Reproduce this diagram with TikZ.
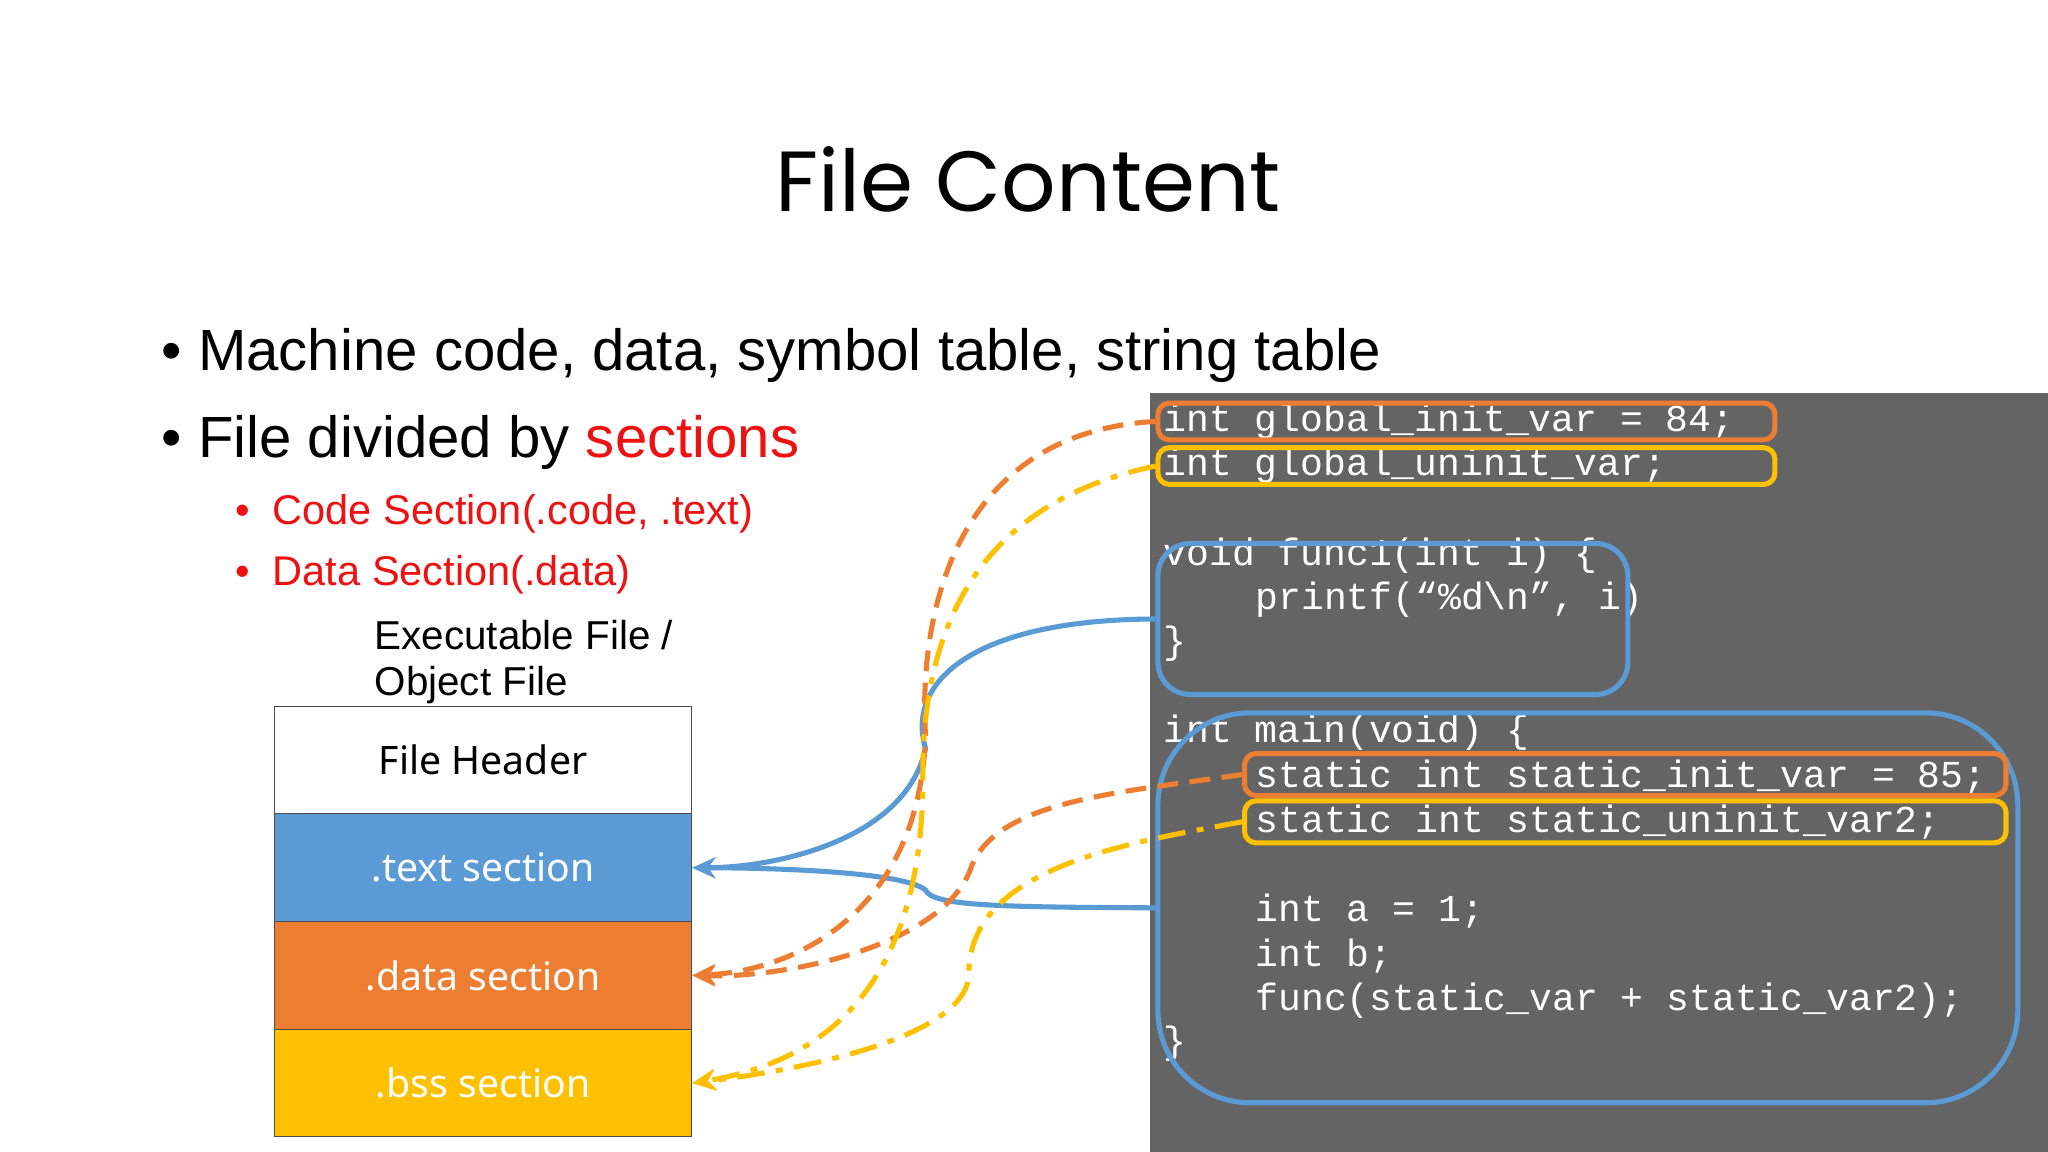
\documentclass[tikz,border=0pt]{standalone}
\usepackage{fontspec}
\setmainfont{Liberation Sans}
\newfontfamily\titlefont{Poppins}
\newfontfamily\secfont{Noto Sans}
\newfontfamily\codefont{Liberation Mono}
\usetikzlibrary{arrows.meta}
\definecolor{secblue}{HTML}{5B9BD5}
\definecolor{secorange}{HTML}{ED7D31}
\definecolor{secyellow}{HTML}{FFC000}
\definecolor{codegray}{HTML}{646464}
\definecolor{slidered}{HTML}{EE1111}
\tikzset{
  sec/.style={draw=black!70,minimum width=318*0.02cm,minimum height=82*0.02cm,inner sep=0pt,font=\secfont\fontsize{17}{20}\selectfont},
  code/.style={anchor=west,inner sep=0pt,text=white,font=\codefont\fontsize{16.5}{18}\selectfont},
  hbox/.style={draw,line width=2.2pt,rounded corners=5pt,inner sep=0pt},
  link/.style={line width=2.2pt,-{Stealth[length=10pt,width=9pt]}},
  dashlink/.style={link,draw=secorange,dash pattern=on 9pt off 5pt},
  dotlink/.style={link,draw=secyellow,dash pattern=on 12pt off 5pt on 3pt off 5pt}
}
\begin{document}
\begin{tikzpicture}[x=0.02cm,y=-0.02cm]
\useasboundingbox (0,0) rectangle (1560,877.5);
\fill[white] (0,0) rectangle (1560,877.5);
% title and bullets
\node (title) at (783,137) {\titlefont\fontsize{37}{44}\selectfont File Content};
\node[anchor=west] (b1) at (117,271) {\fontsize{25.2}{30}\selectfont\textbullet\ Machine code, data, symbol table, string table};
\node[anchor=west] (b2) at (117,337) {\fontsize{25.2}{30}\selectfont\textbullet\ File divided by \textcolor{slidered}{sections}};
\node[anchor=west,text=slidered] (s1) at (173,391) {\fontsize{18}{22}\selectfont\textbullet\ \ Code Section(.code, .text)};
\node[anchor=west,text=slidered] (s2) at (173,438) {\fontsize{18}{22}\selectfont\textbullet\ \ Data Section(.data)};
\node[anchor=north west,align=left,inner sep=0pt,font=\fontsize{17.5}{20}\selectfont] (exe) at (285,472) {Executable File /\\Object File};
% file layout
\node[sec,fill=white] (hdr) at (368,579) {File Header};
\node[sec,fill=secblue,text=white] (txt) at (368,661) {.text section};
\node[sec,fill=secorange,text=white] (dat) at (368,743) {.data section};
\node[sec,fill=secyellow,text=white] (bss) at (368,825) {.bss section};
% code panel
\fill[codegray] (876,299) rectangle (1560,877.5);
\node[code] (l1) at (886,321) {int global\_init\_var = 84;};
\node[code] (l2) at (886,355) {int global\_uninit\_var;};
\node[code] (l3) at (886,423) {void func1(int i) \{};
\node[code] (l4) at (956,457) {printf(“\%d\textbackslash n”, i)};
\node[code] (l5) at (886,490) {\}};
\node[code] (l6) at (886,558) {int main(void) \{};
\node[code] (l7) at (956,592) {static int static\_init\_var = 85;};
\node[code] (l8) at (956,626) {static int static\_uninit\_var2;};
\node[code] (l9) at (956,694) {int a = 1;};
\node[code] (l10) at (956,728) {int b;};
\node[code] (l11) at (956,762) {func(static\_var + static\_var2);};
\node[code] (l12) at (886,795) {\}};
% highlight boxes
\node[hbox,draw=secorange,minimum width=470*0.02cm,minimum height=28*0.02cm] (ginit) at (1117,321) {};
\node[hbox,draw=secyellow,minimum width=470*0.02cm,minimum height=28*0.02cm] (guninit) at (1117,355) {};
\node[hbox,draw=secblue,rounded corners=14pt,minimum width=358*0.02cm,minimum height=115*0.02cm] (func) at (1061,471.5) {};
\node[hbox,draw=secblue,rounded corners=40pt,minimum width=655*0.02cm,minimum height=297*0.02cm] (main) at (1209.5,691.5) {};
\node[hbox,draw=secorange,minimum width=580*0.02cm,minimum height=32*0.02cm] (sinit) at (1238,590) {};
\node[hbox,draw=secyellow,minimum width=580*0.02cm,minimum height=32*0.02cm] (suninit) at (1238,626) {};
% connectors
\draw[link,draw=secblue] (func.west) .. controls (740,472) and (690,520) .. (705,570) .. controls (690,640) and (590,661) .. (txt.east);
\draw[link,draw=secblue] (main.west) .. controls (760,691) and (710,690) .. (705,678) .. controls (690,665) and (600,661) .. (txt.east);
\draw[dashlink] (ginit.west) .. controls (720,330) and (700,480) .. (705,560) .. controls (700,700) and (600,740) .. (dat.east);
\draw[dashlink] (sinit.west) .. controls (850,604) and (760,610) .. (740,660) .. controls (720,720) and (600,745) .. (dat.east);
\draw[dotlink] (guninit.west) .. controls (760,380) and (700,460) .. (703,600) .. controls (700,760) and (620,810) .. (bss.east);
\draw[dotlink] (suninit.west) .. controls (860,642) and (740,660) .. (738,740) .. controls (740,790) and (610,815) .. (bss.east);
\end{tikzpicture}
\end{document}
